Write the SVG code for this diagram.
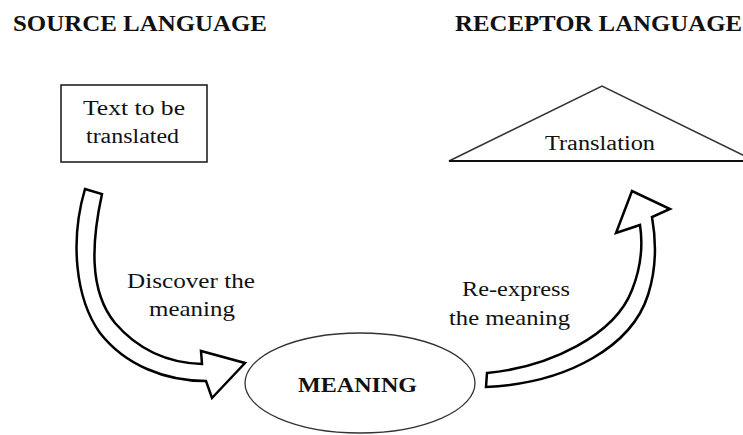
<svg xmlns="http://www.w3.org/2000/svg" width="743" height="435" viewBox="0 0 743 435">
<style>
.hd{font-family:"Liberation Serif","Times New Roman",serif;font-weight:bold;font-size:23px;fill:#111}
.tx{font-family:"Liberation Serif","Times New Roman",serif;font-size:20px;fill:#111}
.lb{font-family:"Liberation Serif","Times New Roman",serif;font-size:22px;fill:#111}
.arrow{fill:#fff;stroke:#000;stroke-width:2.5;stroke-linejoin:miter}
</style>
<rect width="743" height="435" fill="#fff"/>
<g id="headers">
<text class="hd" x="13" y="31" textLength="254" lengthAdjust="spacingAndGlyphs">SOURCE LANGUAGE</text>
<text class="hd" x="455" y="31" textLength="287" lengthAdjust="spacingAndGlyphs">RECEPTOR  LANGUAGE</text>
</g>
<g id="source-text">
<rect x="61" y="85" width="146" height="77" fill="#fff" stroke="#222" stroke-width="1.6"/>
<text class="tx" x="83" y="115" textLength="102" lengthAdjust="spacingAndGlyphs">Text to be</text>
<text class="tx" x="86" y="143" textLength="93" lengthAdjust="spacingAndGlyphs">translated</text>
</g>
<g id="translation">
<polygon points="449,161 602,86 755,161" fill="#fff" stroke="#333" stroke-width="1.5"/>
<line x1="449" y1="161" x2="743" y2="161" stroke="#111" stroke-width="2"/>
<text class="tx" x="545" y="150" textLength="110" lengthAdjust="spacingAndGlyphs">Translation</text>
</g>
<g id="meaning">
<ellipse cx="360" cy="383" rx="115" ry="50" fill="#fff" stroke="#333" stroke-width="1.3"/>
<text class="hd" x="298" y="392" font-size="22" textLength="119" lengthAdjust="spacingAndGlyphs" style="font-size:22px">MEANING</text>
</g>
<g id="connectors">
<path class="arrow" d="M85,189 L102,194 C92,240 88,290 115,323 C140,352 170,363 202,364 L201,351 L245,363 L212,398 L206,381 C165,381 125,365 100,333 C75,298 70,240 85,189 Z"/>
<path class="arrow" d="M487,373 C550,367 615,335 632,290 C642,265 643,245 640,225 L616,233 L632,191 L670,209 L652,217 C657,245 656,270 648,295 C632,345 570,383 486,387 Z"/>
<text class="lb" x="127" y="288" textLength="128" lengthAdjust="spacingAndGlyphs">Discover the</text>
<text class="lb" x="149" y="316" textLength="86" lengthAdjust="spacingAndGlyphs">meaning</text>
<text class="lb" x="462" y="296" textLength="108" lengthAdjust="spacingAndGlyphs">Re-express</text>
<text class="lb" x="449" y="325" textLength="121" lengthAdjust="spacingAndGlyphs">the meaning</text>
</g>
</svg>
